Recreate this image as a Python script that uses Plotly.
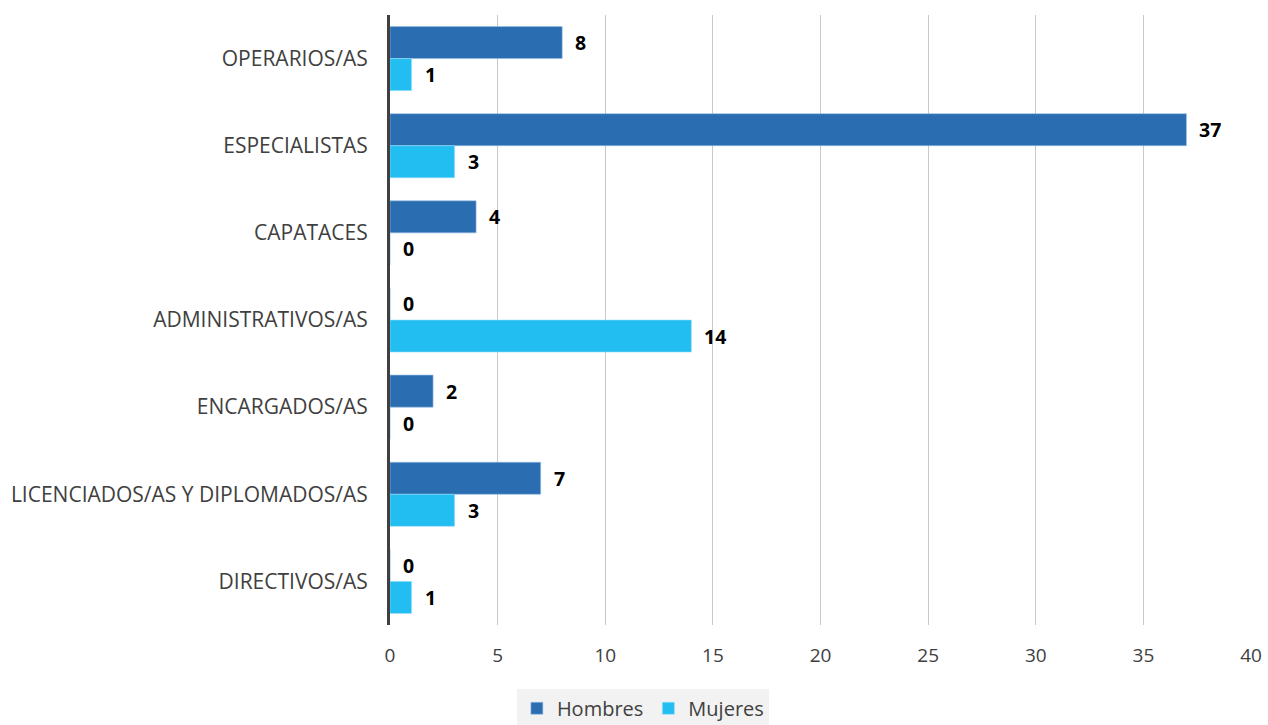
import plotly.graph_objects as go

categorias = [
    "OPERARIOS/AS",
    "ESPECIALISTAS",
    "CAPATACES",
    "ADMINISTRATIVOS/AS",
    "ENCARGADOS/AS",
    "LICENCIADOS/AS Y DIPLOMADOS/AS",
    "DIRECTIVOS/AS",
]
hombres = [8, 37, 4, 0, 2, 7, 0]
mujeres = [1, 3, 0, 14, 0, 3, 1]

color_h = "#2a6db0"
color_m = "#22bdf1"

fig = go.Figure()
fig.add_trace(go.Bar(
    name="Hombres", y=categorias, x=hombres, orientation="h", offsetgroup="h",
    marker=dict(color=color_h, line=dict(color="rgba(150,190,230,0.6)", width=1)),
))
fig.add_trace(go.Bar(
    name="Mujeres", y=categorias, x=mujeres, orientation="h", offsetgroup="m",
    marker=dict(color=color_m, line=dict(color="rgba(150,220,250,0.6)", width=1)),
))

# value labels placed just past the end of each bar, in its half of the group
label_font = dict(family="Open Sans", size=19.5, color="black", weight="bold")
band = 0.735 / 2
for idx, (h, m) in enumerate(zip(hombres, mujeres)):
    for val, off in ((h, -band / 2), (m, band / 2)):
        fig.add_annotation(
            x=val, y=idx + off, yref="y", xref="x", text=str(val),
            showarrow=False, xanchor="left", yanchor="middle", xshift=11,
            font=label_font,
        )

fig.update_layout(
    width=1268, height=725,
    margin=dict(l=390, r=17, t=15, b=100, autoexpand=False),
    paper_bgcolor="white", plot_bgcolor="white",
    barmode="group", bargap=0.265, bargroupgap=0,
    font=dict(family="Open Sans", size=20, color="#404040"),
    showlegend=True,
    legend=dict(
        orientation="h", xref="container", yref="container",
        x=0.507, xanchor="center", y=0.05, yanchor="top",
        bgcolor="#f2f2f2", font=dict(size=20, color="#404040"),
        itemwidth=30, tracegroupgap=0,
    ),
    xaxis=dict(
        range=[0, 40], dtick=5, showgrid=True, gridcolor="#c8c8c8", gridwidth=1,
        zeroline=False, showline=False, ticks="", ticklabelstandoff=17,
        tickfont=dict(size=19, color="#404040"), automargin=False,
    ),
    yaxis=dict(
        autorange="reversed", showgrid=False, showline=True, linecolor="#404040",
        linewidth=3, ticks="", ticklabelstandoff=15,
        tickfont=dict(size=21, color="#404040"), automargin=False,
    ),
)

fig.write_html("out.html")
